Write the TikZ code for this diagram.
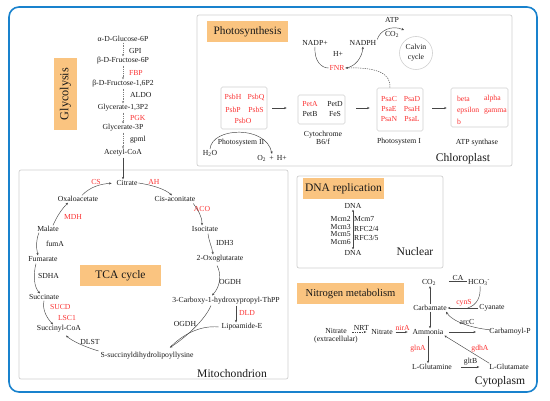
\documentclass[tikz,border=0pt]{standalone}
\usepackage{fontspec}
\setmainfont{Liberation Serif}
\usetikzlibrary{arrows.meta,calc}
\definecolor{enzred}{RGB}{250,50,50}
\definecolor{tagorange}{RGB}{250,196,128}
\definecolor{boxgray}{RGB}{208,208,208}
\definecolor{frameblue}{RGB}{25,130,205}
\definecolor{arrgray}{RGB}{70,70,70}
\definecolor{txtblack}{RGB}{25,25,25}
\newcommand\dgsmall{\fontsize{7.7}{8.2}\selectfont}
\tikzset{
 txt/.style={font=\dgsmall, text=txtblack, inner sep=0.8pt},
 enz/.style={txt, text=enzred},
 bigl/.style={font=\fontsize{11.6}{13}\selectfont, text=txtblack, inner sep=0pt},
 tagbox/.style={fill=tagorange, inner sep=0pt, text=txtblack, font=\fontsize{11.5}{13}\selectfont},
 cbox/.style={draw=boxgray, line width=0.7pt, rounded corners=2pt},
 pbox/.style={draw=boxgray, line width=0.6pt, rounded corners=1.5pt, inner sep=0pt},
 arr/.style={draw=arrgray, line width=0.45pt, -{Stealth[length=2.6pt,width=2.2pt]}},
 ln/.style={draw=arrgray, line width=0.45pt},
 darr/.style={arr, draw=arrgray!70, dash pattern=on 0.8pt off 1pt},
 dsharr/.style={arr, dash pattern=on 1.3pt off 1pt},
}
\begin{document}
\begin{tikzpicture}[x=1pt,y=-1pt]
\useasboundingbox (0,0) rectangle (550,401);
% outer frame and compartments
\draw[frameblue, line width=1.6pt, rounded corners=10pt] (9,7) rectangle (537,392);
\draw[cbox] (197,15) rectangle (512,166);
\draw[cbox] (19,170) rectangle (288,379);
\draw[cbox] (297,176) rectangle (443,268);

% tags
\node[tagbox, minimum width=72pt, minimum height=23pt, rotate=90, font=\fontsize{12.2}{14}\selectfont] (tglyc) at (65.5,94) {Glycolysis};
\node[tagbox, minimum width=81pt, minimum height=21pt, font=\fontsize{11.3}{13}\selectfont] (tphot) at (247.5,31.5) {Photosynthesis};
\node[tagbox, minimum width=81pt, minimum height=21pt] (ttca) at (120.5,275.5) {TCA cycle};
\node[tagbox, minimum width=81pt, minimum height=21pt] (tdna) at (343.5,188.5) {DNA replication};
\node[tagbox, minimum width=107pt, minimum height=21pt, font=\fontsize{10.6}{12}\selectfont] (tnit) at (350.5,293.5) {Nitrogen metabolism};

% ---------------- Glycolysis
\node[txt] (g1) at (123,39) {α-D-Glucose-6P};
\node[txt,anchor=west] (gpi) at (128,51) {GPI};
\node[txt] (g2) at (123,61) {β-D-Fructose-6P};
\node[enz,anchor=west] (fbp) at (128,73) {FBP};
\node[txt] (g3) at (123,84) {β-D-Fructose-1,6P2};
\node[txt,anchor=west] (aldo) at (129,95) {ALDO};
\node[txt] (g4) at (123,108) {Glycerate-1,3P2};
\node[enz,anchor=west] (pgk) at (129,118) {PGK};
\node[txt] (g5) at (123,128) {Glycerate-3P};
\node[txt,anchor=west] (gpml) at (129,140) {gpml};
\node[txt] (g6) at (123,153) {Acetyl-CoA};
\foreach \a/\b in {g1/g2,g2/g3,g3/g4,g4/g5,g5/g6}
  \draw[darr] (\a.south) -- (\b.north);

% ---------------- Photosynthesis
\node[txt] (nadp) at (315,43) {NADP+};
\node[txt] (hplus) at (338,54) {H+};
\node[txt] (nadph) at (363,43) {NADPH};
\node[enz] (fnr) at (337,68) {FNR};
\node[txt] (atp) at (392,20) {ATP};
\node[txt] (co2a) at (392,34) {CO\textsubscript{2}};
\node[txt, circle, draw=boxgray, line width=0.6pt, minimum size=33pt, inner sep=0pt, align=center, font=\fontsize{7.7}{10}\selectfont] (calvin) at (416,53) {Calvin\\cycle};
\coordinate (calvinin) at (404,30);
\draw[ln] (nadp.south) .. controls (314,62) and (322,68) .. (fnr.west);
\draw[arr] (fnr.east) .. controls (355,67) and (362,58) .. (nadph.south);
\draw[arr] (nadph.north east) .. controls (380,30) and (392,25) .. (calvinin);

\node[pbox, minimum width=46pt, minimum height=42pt] (psii) at (244,108) {};
\node[pbox, minimum width=47pt, minimum height=29pt] (cyt) at (321.5,109.5) {};
\node[pbox, minimum width=46pt, minimum height=43pt] (psi) at (400,109.5) {};
\node[pbox, minimum width=57pt, minimum height=39pt] (atps) at (479.5,107.5) {};

\node[enz] (psbh) at (233,97) {PsbH};
\node[enz] (psbq) at (256,97) {PsbQ};
\node[enz] (psbp) at (233,110) {PsbP};
\node[enz] (psbs) at (256,110) {PsbS};
\node[enz] (psbo) at (243,121) {PsbO};
\node[enz] (peta) at (310,104) {PetA};
\node[txt] (petd) at (335,104) {PetD};
\node[txt] (petb) at (310,114) {PetB};
\node[txt] (fes) at (335,114) {FeS};
\node[enz] (psac) at (389,99) {PsaC};
\node[enz] (psad) at (412,99) {PsaD};
\node[enz] (psae) at (389,109) {PsaE};
\node[enz] (psah) at (412,109) {PsaH};
\node[enz] (psan) at (389,119) {PsaN};
\node[enz] (psal) at (412,119) {PsaL};
\node[enz,anchor=west] (beta) at (456,99) {beta};
\node[enz,anchor=west] (alpha) at (483,99) {alpha};
\node[enz,anchor=west] (eps) at (456,111) {epsilon};
\node[enz,anchor=west] (gam) at (483,111) {gamma};
\node[enz,anchor=west] (bsub) at (456,122) {b};

\node[txt] (lpsii) at (241,143) {Photosystem II};
\node[txt, align=center, font=\fontsize{7.7}{8}\selectfont] (lcyt) at (323,138) {Cytochrome\\B6/f};
\node[txt] (lpsi) at (399,142) {Photosystem I};
\node[txt] (latp) at (477,143) {ATP synthase};
\node[txt] (h2o) at (210,153) {H\textsubscript{2}O};
\node[txt] (o2) at (272,158) {O\textsubscript{2}\, + \,H+};
\draw[arr] (h2o.north) .. controls (212,127) and (266,125) .. (o2.north);

\draw[arr, shorten <=5pt, shorten >=11pt] (psii.east) -- (psii.east -| cyt.west);
\draw[arr, shorten <=11pt, shorten >=7pt] (cyt.east |- psii.east) -- (psii.east -| psi.west);
\draw[arr, shorten <=9pt, shorten >=4pt] (psi.east |- psii.east) -- (psii.east -| atps.west);
\draw[dsharr] ($(psi.north)+(-10,0)$) .. controls (391,74) and (378,67) .. (fnr.east);

\node[bigl] (chl) at (463,159) {Chloroplast};

% ---------------- TCA cycle
\node[txt] (citrate) at (127,183) {Citrate};
\node[enz] (cs) at (96,182) {CS};
\node[enz] (ah) at (154,182) {AH};
\node[txt] (oxalo) at (78,199) {Oxaloacetate};
\node[txt] (cisacon) at (175,199) {Cis-aconitate};
\node[enz] (mdh) at (73,217) {MDH};
\node[enz] (aco) at (202,209) {ACO};
\node[txt] (malate) at (48,229) {Malate};
\node[txt] (isocit) at (205,229) {Isocitate};
\node[txt,anchor=west] (fuma) at (45,244) {fumA};
\node[txt,anchor=west] (idh) at (215,243) {IDH3};
\node[txt] (fumarate) at (43,259) {Fumarate};
\node[txt] (oxoglut) at (220,259) {2-Oxoglutarate};
\node[txt,anchor=west] (sdha) at (37,276) {SDHA};
\node[txt,anchor=west] (ogdh1) at (218,282) {OGDH};
\node[txt] (succinate) at (44,297) {Succinate};
\node[enz,anchor=west] (sucd) at (49,307) {SUCD};
\node[enz,anchor=west] (lsc) at (57,318) {LSC1};
\node[txt] (succcoa) at (59,329) {Succinyl-CoA};
\node[txt] (dlst) at (90,342) {DLST};
\node[txt] (ssucc) at (147,356) {S-succinyldihydrolipoyllysine};
\node[txt] (carboxy) at (226,301) {3-Carboxy-1-hydroxypropyl-ThPP};
\node[enz,anchor=west] (dld) at (238,313) {DLD};
\node[txt] (ogdh2) at (185,324) {OGDH};
\node[txt] (lipo) at (242,327) {Lipoamide-E};
\node[bigl] (mito) at (232,374) {Mitochondrion};

\draw[arr] (g6.south) -- (g6.south |- citrate.north);
\draw[arr, shorten >=4pt] ($(oxalo.north)+(4,0)$) .. controls (90,187) and (100,184) .. (citrate.west);
\draw[arr] (citrate.east) .. controls (152,185) and (165,189) .. ($(cisacon.north)+(-3,0)$);
\draw[arr] ($(cisacon.south east)+(-3,1)$) .. controls (198,210) and (202,216) .. ($(isocit.north)+(-3,0)$);
\draw[arr] ($(isocit.south)+(3,1)$) .. controls (209,242) and (212,247) .. ($(oxoglut.north)+(-7,0)$);
\draw[arr] ($(oxoglut.south)+(-3,2)$) .. controls (222,275) and (220,287) .. ($(carboxy.north)+(-14,-1)$);
\draw[arr] ($(carboxy.south)+(10,0)$) -- ($(lipo.north)+(-6,0)$);
\draw[arr] ($(carboxy.south)+(-15,0)$) .. controls (205,320) and (185,338) .. ($(ssucc.north)+(23,-4)$);
\draw[ln] ($(lipo.west)+(-2,0)$) .. controls (200,325) and (182,335) .. ($(ssucc.north)+(23,-4)$);
\draw[arr] ($(ssucc.west)+(-1,-5)$) .. controls (85,347) and (72,341) .. ($(succcoa.south)+(7,2)$);
\draw[arr] (succinate.south) .. controls (42,310) and (47,318) .. ($(succcoa.north)+(-6,0)$);
\draw[arr] ($(fumarate.south)+(-7,1)$) .. controls (33,275) and (34,287) .. ($(succinate.north)+(-4,0)$);
\draw[arr] ($(malate.south)+(-9,0)$) .. controls (36,240) and (36,247) .. ($(fumarate.north)+(-5,0)$);
\draw[arr] ($(malate.north)+(5,0)$) .. controls (57,216) and (62,209) .. ($(oxalo.south)+(-10,0)$);

% ---------------- DNA replication
\node[txt] (dna1) at (353,206) {DNA};
\node[txt] (dna2) at (353,253) {DNA};
\draw[ln, {Stealth[length=2.4pt,width=2pt]}-{Stealth[length=2.4pt,width=2pt]}] (dna1.south) -- (dna2.north);
\node[txt,anchor=east,inner sep=0pt] (mcm2) at (351,219) {Mcm2};
\node[txt,anchor=east,inner sep=0pt] (mcm3) at (351,227) {Mcm3};
\node[txt,anchor=east,inner sep=0pt] (mcm5) at (351,234.5) {Mcm5};
\node[txt,anchor=east,inner sep=0pt] (mcm6) at (351,241.5) {Mcm6};
\node[txt,anchor=west,inner sep=0pt] (mcm7) at (354,219) {Mcm7};
\node[txt,anchor=west,inner sep=0pt] (rfc24) at (354,229) {RFC2/4};
\node[txt,anchor=west,inner sep=0pt] (rfc35) at (354,238) {RFC3/5};
\node[bigl] (nuc) at (415,252) {Nuclear};

% ---------------- Nitrogen metabolism
\node[txt] (co2b) at (429,282) {CO\textsubscript{2}};
\node[txt] (ca) at (458,278) {CA};
\node[txt] (hco3) at (479,282) {HCO\textsubscript{3}\textsuperscript{-}};
\node[txt] (carb) at (430,308) {Carbamate};
\node[enz] (cyns) at (464,303) {cynS};
\node[txt] (cyan) at (492,308) {Cyanate};
\node[txt] (arcc) at (467,322) {arcC};
\node[txt] (carbp) at (510,332) {Carbamoyl-P};
\node[txt] (amm) at (428,332) {Ammonia};
\node[txt, align=center, font=\fontsize{7.7}{8}\selectfont] (nitex) at (336,336) {Nitrate\\(extracellular)};
\node[txt] (nitr) at (382,332) {Nitrate};
\node[enz] (glna) at (418,349) {glnA};
\node[enz] (gdha) at (480,349) {gdhA};
\node[txt] (gln) at (432,367) {L-Glutamine};
\node[txt] (glut) at (509,367) {L-Glutamate};
\node[bigl] (cyto) at (500,382) {Cytoplasm};

\draw[ln, shorten <=12pt] (co2b.east |- ca.south) -- (hco3.west |- ca.south);
\draw[arr] (carb.north) -- (carb.north |- co2b.south);
\draw[arr] (cyan.west) -- (carb.east);
\draw[ln] ($(hco3.south)+(1,0)$) .. controls (481,297) and (477,305) .. ($(carb.east)!0.65!(cyan.west)$);
\draw[arr] ($(carbp.west)+(3,-2)$) .. controls (470,328) and (452,321) .. ($(carb.south)+(16,0)$);
\draw[arr] (carb.south) -- (carb.south |- amm.north);
\draw[arr, shorten <=4.5pt, shorten >=12.5pt] (amm.east) -- (carbp.west);
\draw[dsharr, shorten >=4pt] ($(nitr.west)+(-18,0)$) -- node[txt, above=0.5pt] (nrt) {NRT} (nitr.west);
\draw[arr, shorten <=2pt, shorten >=4pt] (nitr.east) -- node[enz, above=0.5pt] (nira) {nirA} (amm.west);
\draw[arr] (amm.south) -- (amm.south |- gln.north);
\draw[arr, shorten <=8pt, shorten >=9pt] (gln.east) -- node[txt, above=0.5pt] (gltb) {gltB} (glut.west);
\draw[arr] ($(glut.north west)+(1,0)$) -- (amm.south east);
\end{tikzpicture}
\end{document}
